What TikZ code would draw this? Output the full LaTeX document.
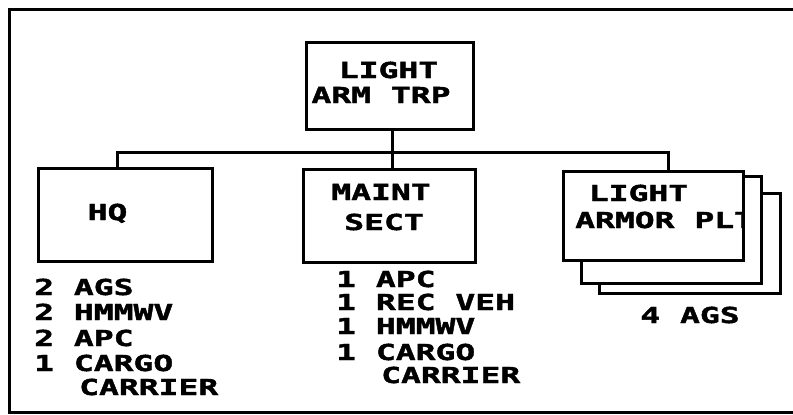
\documentclass[tikz,border=0pt]{standalone}
\usepackage{fontspec}
\newfontfamily\pix{DejaVu Sans Mono Bold}[FakeStretch=1.50,FakeBold=2]
\begin{document}
\begin{tikzpicture}[x=1pt,y=-1pt,
  box/.style={draw, line width=3pt, fill=white, inner sep=0pt, outer sep=0pt},
  lbl/.style={font=\pix\fontsize{22}{26}\selectfont, inner sep=0pt, text height=16pt, text depth=0pt},
  lst/.style={lbl, anchor=west},
  link/.style={line width=3pt},
  frame/.style={line width=3pt}]
\fill[white] (0,0) rectangle (793,415);
\useasboundingbox (0,0) rectangle (793,415);
% outer frame (right side lies outside the picture)
\draw[frame] (793,9) -- (9,9) -- (9,412) -- (793,412);
% boxes
\node[box, minimum width=167pt, minimum height=87pt] (top) at (389.5,85.5) {};
\node[box, minimum width=174pt, minimum height=93pt] (hq) at (125,214.5) {};
\node[box, minimum width=172pt, minimum height=93pt] (maint) at (389,215.5) {};
\node[box, minimum width=181pt, minimum height=100pt] (plt3) at (689.5,243) {};
\node[box, minimum width=180pt, minimum height=107pt] (plt2) at (671,229.5) {};
\node[box, minimum width=180pt, minimum height=89pt] (plt1) at (653,215.5) {};
% connectors
\coordinate (busL) at (117,152);
\coordinate (busM) at (392,152);
\coordinate (busR) at (668,152);
\draw[link] (hq.north -| busL) -- (busL) -- (busR) -- (plt1.north -| busR);
\draw[link] (top.south -| busM) -- (maint.north -| busM);
% box texts
\node[lbl] (t1) at (388.5,70) {LIGHT};
\node[lbl] (t2) at (381,95) {ARM TRP};
\node[lbl] (hqt) at (107.5,212) {HQ};
\node[lbl] (mt1) at (381,192) {MAINT};
\node[lbl] (mt2) at (384,222) {SECT};
\node[lbl] (pt1) at (638.5,193) {LIGHT};
\begin{scope}
\clip (plt1.south west) rectangle (plt1.north east);
\node[lst] (pt2) at (575,220) {ARMOR PLT};
\end{scope}
\node[lbl] (ags) at (690,315) {4 AGS};
% HQ equipment
\node[lst] (h1) at (34,287) {2 AGS};
\node[lst] (h2) at (34,312) {2 HMMWV};
\node[lst] (h3) at (34,338) {2 APC};
\node[lst] (h4) at (34,363) {1 CARGO};
\node[lst] (h5) at (79,387) {CARRIER};
% MAINT equipment
\node[lst] (m1) at (336,279) {1 APC};
\node[lst] (m2) at (336,302) {1 REC VEH};
\node[lst] (m3) at (336,326) {1 HMMWV};
\node[lst] (m4) at (336,352) {1 CARGO};
\node[lst] (m5) at (381,375) {CARRIER};
\end{tikzpicture}
\end{document}
